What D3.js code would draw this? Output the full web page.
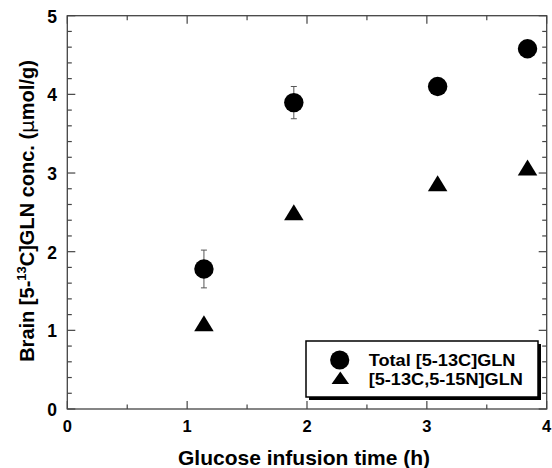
<!DOCTYPE html>
<html><head><meta charset="utf-8">
<script src="https://cdn.jsdelivr.net/npm/d3@7"></script>
<style>body{margin:0;background:#fff}svg{display:block}text{font-family:"Liberation Sans",Arial,sans-serif;font-weight:bold;fill:#000}</style>
</head><body>
<script>
const times = [1.14, 1.89, 3.09, 3.84];
const totalGln = [1.78, 3.895, 4.10, 4.58];
const totalErr = [0.24, 0.205, 0, 0];
const labeledGln = [1.09, 2.50, 2.87, 3.07];
const xTicks = [0, 1, 2, 3, 4];
const yTicks = [0, 1, 2, 3, 4, 5];
const legendLabels = ["Total [5-13C]GLN", "[5-13C,5-15N]GLN"];

const W = 552, H = 468;
const svg = d3.select("body").append("svg").attr("width", W).attr("height", H);
const x = d3.scaleLinear().domain([0, 4]).range([67.3, 546.7]);
const y = d3.scaleLinear().domain([0, 5]).range([409, 15.7]);
const axisCol = "#444";

// frame
svg.append("rect").attr("x", x(0)).attr("y", y(5)).attr("width", x(4) - x(0)).attr("height", y(0) - y(5))
  .attr("fill", "none").attr("stroke", axisCol).attr("stroke-width", 1.3);

const xMinor = d3.range(0.5, 4, 1);
const yMinor = d3.range(0, 5.001, 0.2).filter(v => Math.abs(v - Math.round(v)) > 1e-6);

function ticks(g, vals, len, orient) {
  vals.forEach(v => {
    if (orient === "bottom") g.append("line").attr("x1", x(v)).attr("x2", x(v)).attr("y1", y(0)).attr("y2", y(0) - len);
    if (orient === "top") g.append("line").attr("x1", x(v)).attr("x2", x(v)).attr("y1", y(5)).attr("y2", y(5) + len);
    if (orient === "left") g.append("line").attr("y1", y(v)).attr("y2", y(v)).attr("x1", x(0)).attr("x2", x(0) + len);
    if (orient === "right") g.append("line").attr("y1", y(v)).attr("y2", y(v)).attr("x1", x(4)).attr("x2", x(4) - len);
  });
}
const tg = svg.append("g").attr("stroke", axisCol).attr("stroke-width", 1.2);
["bottom", "top"].forEach(o => { ticks(tg, xTicks, 8, o); ticks(tg, xMinor, 4.5, o); });
["left", "right"].forEach(o => { ticks(tg, yTicks, 8, o); ticks(tg, yMinor, 4.5, o); });

// tick labels
svg.append("g").selectAll("text").data(xTicks).join("text")
  .attr("x", d => x(d)).attr("y", 432).attr("text-anchor", "middle").attr("font-size", 16.5).text(d => d);
svg.append("g").selectAll("text").data(yTicks).join("text")
  .attr("x", 57).attr("y", d => y(d) + 7).attr("text-anchor", "end").attr("font-size", 17.5).text(d => d);

// axis titles
svg.append("text").attr("x", 304).attr("y", 465).attr("text-anchor", "middle").attr("font-size", 21)
  .text("Glucose infusion time (h)");
const yt = svg.append("text").attr("transform", "translate(33.5,211) rotate(-90)").attr("text-anchor", "middle").attr("font-size", 20);
yt.append("tspan").text("Brain [5-");
yt.append("tspan").attr("font-size", 13).attr("dy", -8).text("13");
yt.append("tspan").attr("dy", 8).text("C]GLN conc. (");
yt.append("tspan").attr("font-family", "DejaVu Sans").attr("font-weight", "normal").text("\u00b5");
yt.append("tspan").text("mol/g)");

// error bars
const eb = svg.append("g").attr("stroke", "#555").attr("stroke-width", 1);
times.forEach((t, i) => {
  if (totalErr[i] <= 0) return;
  const cx = x(t), y1 = y(totalGln[i] + totalErr[i]), y2 = y(totalGln[i] - totalErr[i]);
  eb.append("line").attr("x1", cx).attr("x2", cx).attr("y1", y1).attr("y2", y2);
  eb.append("line").attr("x1", cx - 3).attr("x2", cx + 3).attr("y1", y1).attr("y2", y1);
  eb.append("line").attr("x1", cx - 3).attr("x2", cx + 3).attr("y1", y2).attr("y2", y2);
});

function tri(cx, cy, w, h) {
  return `M${cx - w / 2},${cy + h / 2}L${cx + w / 2},${cy + h / 2}L${cx},${cy - h / 2}Z`;
}
svg.append("g").selectAll("circle").data(times).join("circle")
  .attr("cx", d => x(d)).attr("cy", (d, i) => y(totalGln[i])).attr("r", 9.7).attr("fill", "#000");
svg.append("g").selectAll("path").data(times).join("path")
  .attr("d", (d, i) => tri(x(d), y(labeledGln[i]), 19.5, 16)).attr("fill", "#000");

// legend
const lg = svg.append("g");
lg.append("rect").attr("x", 309).attr("y", 344).attr("width", 232).attr("height", 56).attr("fill", "#000");
lg.append("rect").attr("x", 306).attr("y", 341).attr("width", 232).attr("height", 56).attr("fill", "#fff")
  .attr("stroke", "#000").attr("stroke-width", 1.5);
lg.append("circle").attr("cx", 339.7).attr("cy", 360).attr("r", 9.6).attr("fill", "#000");
lg.append("path").attr("d", tri(340.3, 377.8, 17.5, 12.5)).attr("fill", "#000");
lg.selectAll("text.l").data(legendLabels).join("text").attr("class", "l")
  .attr("transform", (d, i) => `translate(368.7,${366.3 + i * 19}) scale(1.1,1)`)
  .attr("font-size", 16.5).text(d => d);
</script>
</body></html>
